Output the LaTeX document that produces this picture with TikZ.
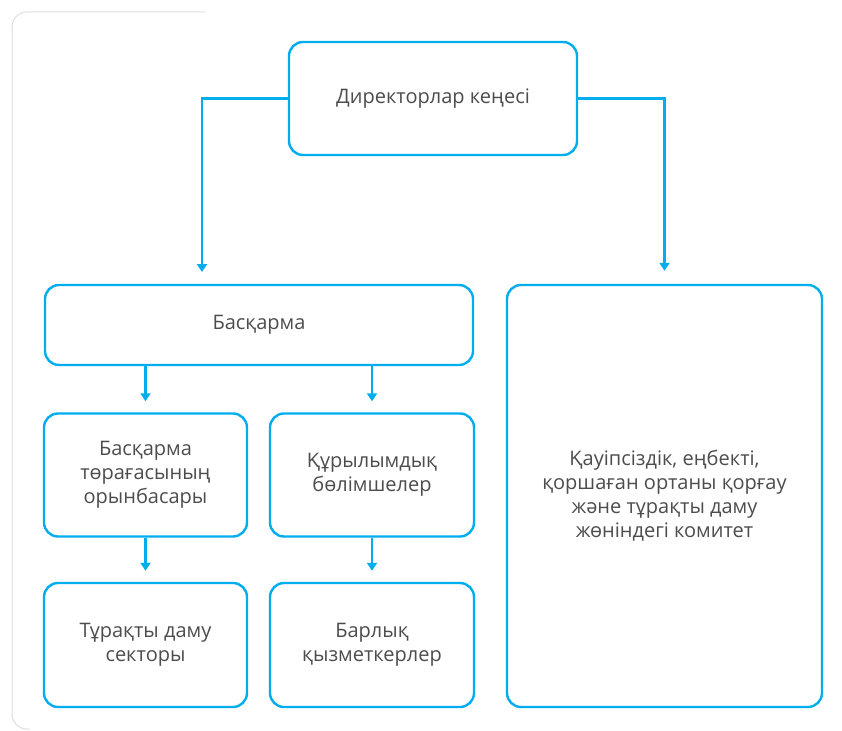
\documentclass[tikz,border=0pt]{standalone}
\usepackage{fontspec}
\setmainfont{Open Sans}
\usetikzlibrary{arrows.meta}
\definecolor{lineblue}{RGB}{0,174,239}
\definecolor{textgray}{RGB}{77,77,77}
\definecolor{framegray}{RGB}{222,222,222}
\begin{document}
\begin{tikzpicture}[x=1pt, y=-1pt,
    unit/.style={draw=lineblue, line width=2.4pt, rounded corners=14pt, fill=white,
        text=textgray, align=center, font=\fontsize{20}{24}\selectfont, inner sep=4pt},
    link/.style={draw=lineblue, line width=2.4pt, -{Triangle[width=10pt,length=8pt]}}]
    \useasboundingbox (0,0) rectangle (842,730);
    \draw[framegray, line width=1pt, rounded corners=15pt] (205,12) -- (12,12) -- (12,729) -- (30,729);

    \node[unit, minimum width=288pt, minimum height=113pt] (board) at (433,98.5) {Директорлар кеңесі};
    \node[unit, minimum width=428pt, minimum height=80pt] (mgmt) at (259,325) {Басқарма};
    \node[unit, minimum width=315pt, minimum height=422pt] (cmte) at (664.5,496)
        {Қауіпсіздік, еңбекті,\\қоршаған ортаны қорғау\\және тұрақты даму\\жөніндегі комитет};

    \node[unit, minimum width=203pt, minimum height=123pt] (deputy) at (145.5,475)
        {Басқарма\\төрағасының\\орынбасары};
    \node[unit, minimum width=204pt, minimum height=123pt] (units) at (372,475)
        {Құрылымдық\\бөлімшелер};
    \node[unit, minimum width=203pt, minimum height=124pt] (sector) at (145.5,645)
        {Тұрақты даму\\секторы};
    \node[unit, minimum width=204pt, minimum height=124pt] (staff) at (372,645)
        {Барлық\\қызметкерлер};

    \coordinate (mgmtin) at (202,285);
    \draw[link, shorten >=13pt] (board.west) -| (mgmtin);
    \draw[link, shorten >=13pt] (board.east) -| (cmte.north);

    \draw[link, shorten >=11pt] (mgmt.south -| deputy.north) -- (deputy.north);
    \draw[link, shorten >=11pt] (mgmt.south -| units.north) -- (units.north);
    \draw[link, shorten >=11pt] (deputy.south) -- (sector.north);
    \draw[link, shorten >=11pt] (units.south) -- (staff.north);
\end{tikzpicture}
\end{document}
